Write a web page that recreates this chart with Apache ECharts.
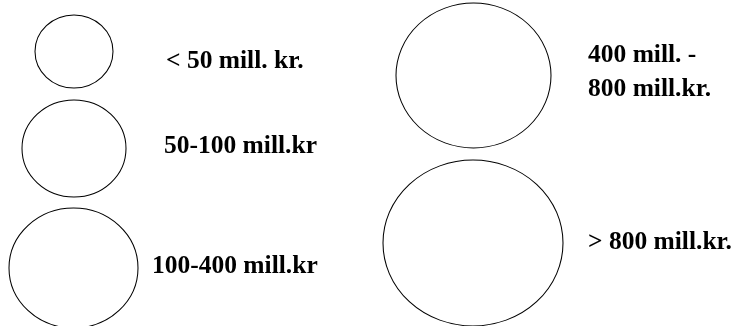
<!DOCTYPE html>
<html>
<head>
<meta charset="utf-8">
<script src="https://cdn.jsdelivr.net/npm/echarts@6/dist/echarts.min.js"></script>
<style>
  html, body { margin: 0; padding: 0; background: #fff; }
  #chart { width: 738px; height: 326px; }
</style>
</head>
<body>
<div id="chart"></div>
<script>
// size classes (legend of bubble sizes)
const categories = ['< 50 mill. kr.', '50-100 mill.kr', '100-400 mill.kr', '400 mill. -\n800 mill.kr.', '> 800 mill.kr.']
// bubble widths / heights in px
const bubbleW = [78, 104, 129, 155, 180]
const bubbleH = [73, 97, 120, 145, 166]

// layout (pixel space of the page)
const centerX = [74, 74, 73.5, 473.5, 473]
const centerY = [51.5, 148.5, 268, 75.5, 243]
const labelX = [166, 164, 152, 588, 588]
const labelY = [61.5, 146, 266.5, 72.5, 242]

let chart = echarts.init(document.getElementById('chart'))

let option = {
  animation: false,
  backgroundColor: '#fff',
  grid: { left: 0, right: 0, top: 0, bottom: 0 },
  xAxis: { type: 'value', min: 0, max: 738, show: false },
  yAxis: { type: 'value', min: 0, max: 326, inverse: true, show: false },
  series: [{
    // the circles
    type: 'scatter',
    symbol: 'circle',
    data: categories.map((c, i) => ({ name: c, value: [centerX[i], centerY[i]], symbolSize: [bubbleW[i], bubbleH[i]] })),
    itemStyle: { color: 'rgba(0,0,0,0)', borderColor: '#000', borderWidth: 1, opacity: 1 },
    emphasis: { disabled: true },
    silent: true
  }, {
    // the texts
    type: 'scatter',
    symbolSize: 0,
    itemStyle: { opacity: 1 },
    data: categories.map((c, i) => ({ name: c, value: [labelX[i], labelY[i]] })),
    label: {
      show: true,
      position: 'right',
      distance: 0,
      formatter: p => p.name,
      color: '#000',
      fontFamily: '"Liberation Serif", "Times New Roman", serif',
      fontWeight: 'bold',
      fontSize: 25.5,
      lineHeight: 34,
      align: 'left',
      verticalAlign: 'middle'
    },
    emphasis: { disabled: true },
    silent: true
  }]
}

chart.setOption(option)
</script>
</body>
</html>
